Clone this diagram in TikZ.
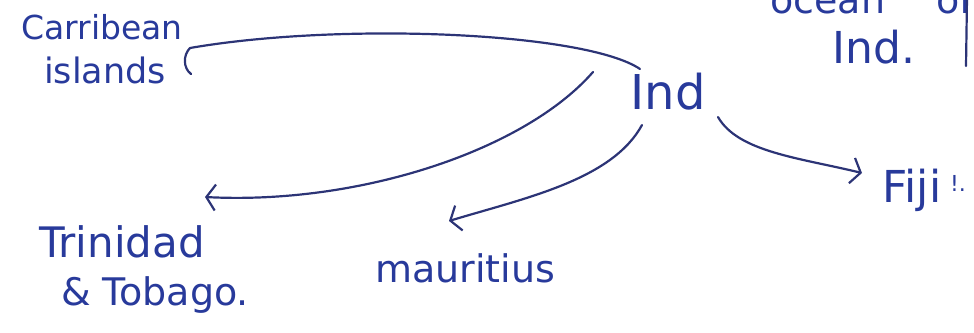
\documentclass[tikz,border=0pt]{standalone}
\usepackage{fontspec}
\setmainfont{DejaVu Sans}
\usetikzlibrary{arrows.meta}
\definecolor{ink}{RGB}{40,58,155}
\definecolor{lineink}{RGB}{44,52,118}
\tikzset{
  hand/.style={text=ink, inner sep=0pt, anchor=center},
  link/.style={draw=lineink, line width=2.2pt, line cap=round},
  barb/.style={-{Straight Barb[length=9pt,width=26pt,line width=2.2pt]}},
}
\begin{document}
\begin{tikzpicture}[x=1pt,y=-1pt]
\useasboundingbox (0,0) rectangle (974,332);
% labels
\node[hand, font=\fontsize{33}{33}\selectfont] (car) at (102,27) {Carribean};
\node[hand, font=\fontsize{35}{35}\selectfont] (isl) at (105,70) {islands};
\node[hand, font=\fontsize{48}{48}\selectfont] (ind) at (668,92) {Ind};
\node[hand, font=\fontsize{42}{42}\selectfont] (tri) at (122,242) {Trinidad};
\node[hand, font=\fontsize{38}{38}\selectfont] (tob) at (155,295) {\& Tobago.};
\node[hand, font=\fontsize{38}{38}\selectfont] (mau) at (465,268) {mauritius};
\node[hand, font=\fontsize{44}{44}\selectfont] (fij) at (912,190) {Fiji};
\node[hand, font=\fontsize{22}{22}\selectfont] (fdot) at (958,183) {!.};
\node[hand, font=\fontsize{38}{38}\selectfont, anchor=base west] (ocn) at (770,13) {ocean};
\node[hand, font=\fontsize{38}{38}\selectfont, anchor=base west] (of) at (936,13) {of};
\node[hand, font=\fontsize{44}{44}\selectfont] (ind2) at (874,47) {Ind.};
\coordinate (bartop) at (967,-2);
\coordinate (barbot) at (966,66);
\draw[link] (bartop) -- (barbot);
% connector ends
\coordinate (s1) at (640,69);
\coordinate (e1) at (190,48);
\coordinate (s2) at (593,72);
\coordinate (e2) at (205,197);
\coordinate (s3) at (642,125);
\coordinate (e3) at (449,221);
\coordinate (s4) at (718,117);
\coordinate (e4) at (862,173);
% connectors
\draw[link] (s1) .. controls (585,32) and (340,22) .. (e1);
\draw[link] (e1) .. controls (183,55) and (183,68) .. (191,74);
\draw[link,barb] (s2) .. controls (525,150) and (360,205) .. (e2);
\draw[link,barb] (s3) .. controls (612,180) and (525,198) .. (e3);
\draw[link,barb] (s4) .. controls (738,152) and (800,158) .. (e4);
\end{tikzpicture}
\end{document}
